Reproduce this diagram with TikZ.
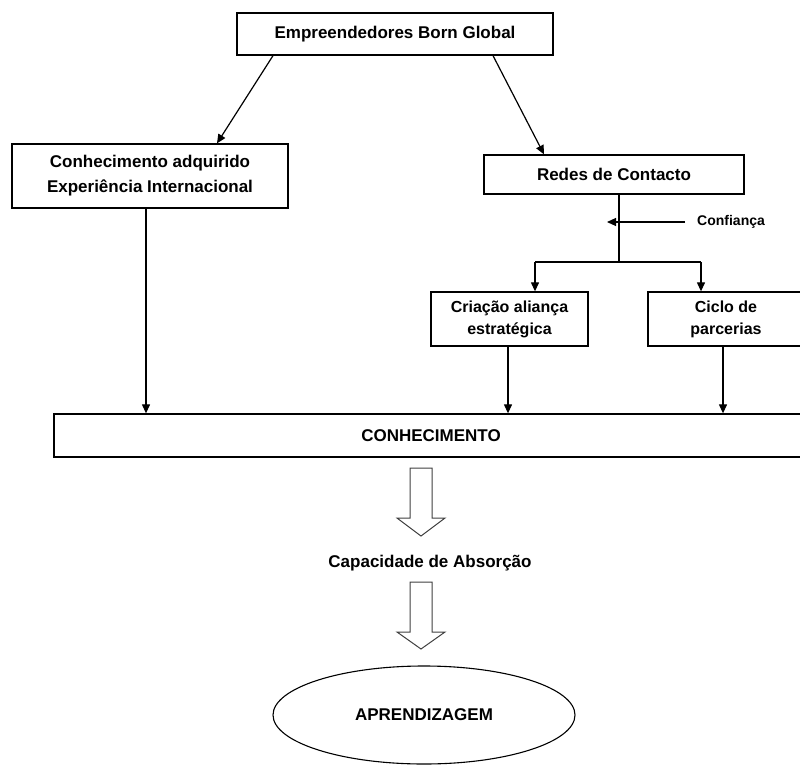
\documentclass[tikz,border=0pt]{standalone}
\usepackage{fontspec}
\setmainfont{Liberation Sans}
\usetikzlibrary{arrows.meta,shapes.geometric}

\tikzset{
  box/.style={draw, line width=1.3pt, rectangle, align=center, inner sep=0pt,
              font=\fontsize{17}{25}\selectfont\bfseries},
  smallbox/.style={box, font=\fontsize{16}{22}\selectfont\bfseries},
  arr/.style={-{Triangle[length=9pt,width=8pt]}, line width=1.2pt},
  plain/.style={line width=1.2pt},
  blockarrow/.style={draw=black!75, line width=1pt, fill=white},
  label/.style={inner sep=0pt, font=\fontsize{17}{20}\selectfont\bfseries},
}

\begin{document}
\begin{tikzpicture}[x=1pt, y=-1pt]
  \useasboundingbox (0,0) rectangle (800,765);
  \clip (0,0) rectangle (800,765);

  % boxes
  \node[box, minimum width=316pt, minimum height=42pt] (top) at (395,34)
    {Empreendedores Born Global};
  \node[box, minimum width=276pt, minimum height=64pt] (adq) at (150,176)
    {Conhecimento adquirido\\Experiência Internacional};
  \node[box, minimum width=260pt, minimum height=39pt] (redes) at (614,174.5)
    {Redes de Contacto};
  \node[smallbox, minimum width=157pt, minimum height=54pt] (alianca) at (509.5,319)
    {Criação aliança\\estratégica};
  \node[smallbox, minimum width=156pt, minimum height=54pt] (ciclo) at (726,319)
    {Ciclo de\\parcerias};
  \node[box, minimum width=754pt, minimum height=43pt] (conh) at (431,435.5)
    {CONHECIMENTO};

  % trust input and branching
  \node[inner sep=0pt, anchor=west, font=\fontsize{14}{16}\selectfont\bfseries]
    (conf) at (697,222) {Confiança};
  \coordinate (j)  at (619,262);
  \coordinate (jl) at (535,262);
  \coordinate (jr) at (701,262);

  % connectors
  \draw[arr] ([xshift=-122pt]top.south) -- ([xshift=67pt]adq.north);
  \draw[arr] ([xshift=98pt]top.south) -- ([xshift=-70pt]redes.north);
  \draw[plain] ([xshift=5pt]redes.south) -- (j);
  \draw[arr] ([xshift=-12pt]conf.west) -- ([xshift=-12pt]conf.west -| j);
  \draw[plain] (jl) -- (jr);
  \draw[arr] (jl) -- (jl |- alianca.north);
  \draw[arr] (jr) -- (jr |- ciclo.north);
  \draw[arr] ([xshift=-4pt]adq.south) -- ([xshift=-4pt]adq.south |- conh.north);
  \draw[arr] ([xshift=-1.5pt]alianca.south) -- ([xshift=-1.5pt]alianca.south |- conh.north);
  \draw[arr] ([xshift=-3pt]ciclo.south) -- ([xshift=-3pt]ciclo.south |- conh.north);

  % hollow block arrows
  \foreach \t/\h/\b in {468/518/536, 582/632/649}{
    \draw[blockarrow] (410,\t) -- (432,\t) -- (432,\h) -- (445,\h) -- (421,\b)
      -- (397,\h) -- (410,\h) -- cycle;
  }

  \node[label] (cap) at (430,563) {Capacidade de Absorção};

  \node[draw, ellipse, line width=1.1pt, minimum width=302pt, minimum height=98pt,
        inner sep=0pt, font=\fontsize{17}{20}\selectfont\bfseries] (apr) at (424,715)
    {APRENDIZAGEM};
\end{tikzpicture}
\end{document}
